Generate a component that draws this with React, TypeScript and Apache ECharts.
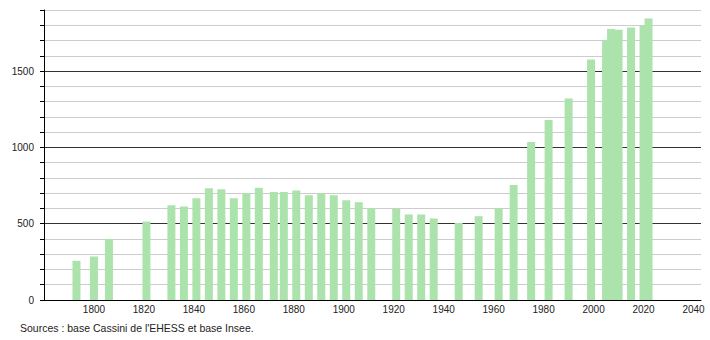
import React, { useEffect, useRef } from "react";
import * as echarts from "echarts";

const years = [1793, 1800, 1806, 1821, 1831, 1836, 1841, 1846, 1851, 1856, 1861, 1866, 1872, 1876, 1881, 1886, 1891, 1896, 1901, 1906, 1911, 1921, 1926, 1931, 1936, 1946, 1954, 1962, 1968, 1975, 1982, 1990, 1999, 2005, 2007, 2010, 2015, 2020, 2022];
const population = [257, 285, 400, 514, 620, 613, 666, 732, 725, 666, 697, 736, 707, 707, 718, 686, 699, 686, 653, 641, 600, 598, 560, 560, 534, 505, 549, 600, 753, 1035, 1180, 1320, 1575, 1703, 1776, 1770, 1786, 1802, 1844];
const yLabels = [0, 500, 1000, 1500];
const xLabels = [1800, 1820, 1840, 1860, 1880, 1900, 1920, 1940, 1960, 1980, 2000, 2020, 2040];
const sourceText = "Sources : base Cassini de l'EHESS et base Insee.";

export default function App() {
  const ref = useRef<HTMLDivElement>(null);
  useEffect(() => {
    if (!ref.current) return;
    const chart = echarts.init(ref.current, null, { renderer: "svg" });
    const font = "'Liberation Sans', Arial, sans-serif";
    chart.setOption({
      animation: false,
      grid: { left: 44, right: 9, top: 10, bottom: 40 },
      xAxis: {
        type: "value",
        min: 1780,
        max: 2043,
        interval: 20,
        axisLine: { show: true, onZero: false, lineStyle: { color: "#000", width: 1 } },
        axisTick: { show: false },
        splitLine: { show: false },
        axisLabel: {
          color: "#222",
          fontFamily: font,
          fontSize: 10,
          margin: 4,
          showMinLabel: true,
          showMaxLabel: true,
          formatter: (v: number) => (xLabels.includes(v) ? String(v) : ""),
        },
      },
      yAxis: {
        type: "value",
        min: 0,
        max: 1900,
        interval: 100,
        axisLine: { show: true, lineStyle: { color: "#000", width: 1 } },
        axisTick: { show: true, length: 4, lineStyle: { color: "#000" } },
        splitLine: {
          show: true,
          lineStyle: { color: ["#333", "#ccc", "#ccc", "#ccc", "#ccc"], width: 1 },
        },
        axisLabel: {
          color: "#222",
          fontFamily: font,
          fontSize: 10,
          margin: 10,
          formatter: (v: number) => (yLabels.includes(v) ? String(v) : ""),
        },
      },
      series: [
        {
          type: "bar",
          barWidth: 8,
          itemStyle: { color: "#ace3ac" },
          data: years.map((y, i) => [y, population[i]]),
        },
      ],
      graphic: [
        {
          type: "text",
          left: 20,
          top: 322,
          style: { text: sourceText, fill: "#222", fontFamily: font, fontSize: 10.5 },
        },
      ],
    });
    return () => chart.dispose();
  }, []);
  return <div ref={ref} style={{ width: 710, height: 340, position: "absolute", left: 0, top: 0 }} />;
}
